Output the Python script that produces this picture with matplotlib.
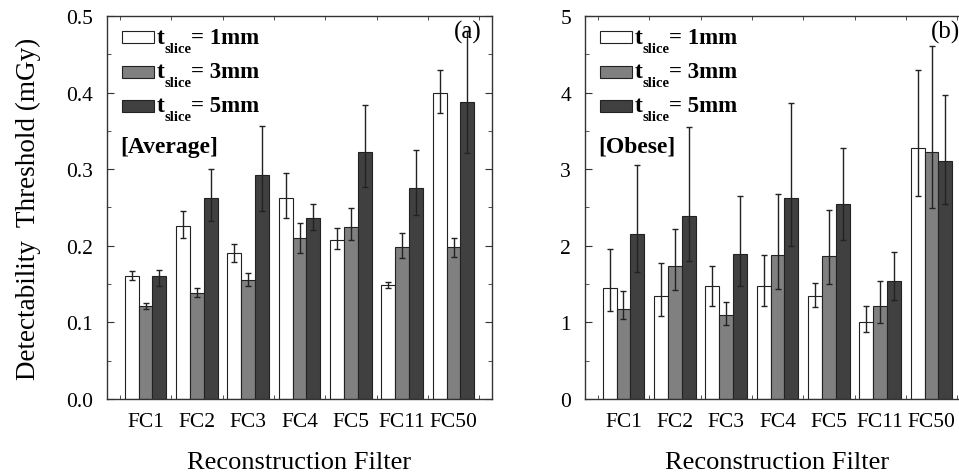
import matplotlib
matplotlib.use('Agg')
import numpy as np
import matplotlib.pyplot as plt
from matplotlib.ticker import MultipleLocator
from matplotlib.patches import Rectangle

plt.rcParams['font.family'] = ['Liberation Serif', 'DejaVu Serif']

filters = ['FC1', 'FC2', 'FC3', 'FC4', 'FC5', 'FC11', 'FC50']
slice_labels = ['= 1mm', '= 3mm', '= 5mm']
bar_colors = ['#ffffff', '#808080', '#404040']

# (a) Average phantom, values and error bar bounds (mGy)
avg_1mm = [0.161, 0.226, 0.191, 0.262, 0.208, 0.149, 0.399]
avg_1mm_lo = [0.155, 0.210, 0.179, 0.236, 0.196, 0.145, 0.373]
avg_1mm_hi = [0.167, 0.246, 0.202, 0.295, 0.223, 0.153, 0.429]
avg_3mm = [0.122, 0.139, 0.156, 0.210, 0.225, 0.199, 0.198]
avg_3mm_lo = [0.118, 0.133, 0.148, 0.191, 0.207, 0.184, 0.186]
avg_3mm_hi = [0.125, 0.145, 0.164, 0.230, 0.249, 0.217, 0.210]
avg_5mm = [0.160, 0.262, 0.292, 0.236, 0.323, 0.276, 0.388]
avg_5mm_lo = [0.148, 0.232, 0.246, 0.220, 0.277, 0.240, 0.321]
avg_5mm_hi = [0.168, 0.300, 0.357, 0.254, 0.384, 0.325, 0.480]

# (b) Obese phantom
obe_1mm = [1.45, 1.34, 1.47, 1.48, 1.34, 1.01, 3.28]
obe_1mm_lo = [1.15, 1.08, 1.21, 1.22, 1.20, 0.87, 2.65]
obe_1mm_hi = [1.96, 1.77, 1.74, 1.88, 1.51, 1.22, 4.29]
obe_3mm = [1.18, 1.74, 1.10, 1.88, 1.87, 1.22, 3.23]
obe_3mm_lo = [1.05, 1.42, 0.97, 1.44, 1.50, 0.99, 2.49]
obe_3mm_hi = [1.41, 2.22, 1.27, 2.67, 2.47, 1.54, 4.61]
obe_5mm = [2.16, 2.39, 1.89, 2.63, 2.55, 1.54, 3.11]
obe_5mm_lo = [1.66, 1.80, 1.47, 2.00, 2.08, 1.29, 2.55]
obe_5mm_hi = [3.06, 3.55, 2.65, 3.86, 3.28, 1.92, 3.97]

panels = [
    dict(vals=[avg_1mm, avg_3mm, avg_5mm], lo=[avg_1mm_lo, avg_3mm_lo, avg_5mm_lo],
         hi=[avg_1mm_hi, avg_3mm_hi, avg_5mm_hi], ymax=0.5, step=0.1, fmt='%.1f',
         tag='(a)', group='[Average]'),
    dict(vals=[obe_1mm, obe_3mm, obe_5mm], lo=[obe_1mm_lo, obe_3mm_lo, obe_5mm_lo],
         hi=[obe_1mm_hi, obe_3mm_hi, obe_5mm_hi], ymax=5, step=1, fmt='%d',
         tag='(b)', group='[Obese]'),
]

fig = plt.figure(figsize=(9.59, 4.77), dpi=100)
lefts = [0.1116, 0.61]
x = np.arange(len(filters))
w = 0.27
row_y = [0.945, 0.855, 0.766]  # legend rows, axes fraction

for left, p in zip(lefts, panels):
    ax = fig.add_axes([left, 0.1614, 0.4015, 0.803])
    for k in range(3):
        v = np.array(p['vals'][k])
        err = [v - np.array(p['lo'][k]), np.array(p['hi'][k]) - v]
        ax.bar(x + (k - 1) * w, v, w, color=bar_colors[k], edgecolor='#222222', lw=0.8,
               yerr=err, capsize=2.5, error_kw=dict(ecolor='#222222', elinewidth=1.0, capthick=1.0))
    ax.set_xlim(-0.75, 6.75)
    ax.set_ylim(0, p['ymax'])
    ax.set_xticks(x)
    ax.set_xticklabels(filters)
    ax.xaxis.set_minor_locator(MultipleLocator(0.5))
    ax.yaxis.set_major_locator(MultipleLocator(p['step']))
    ax.yaxis.set_minor_locator(MultipleLocator(p['step'] / 2))
    ax.yaxis.set_major_formatter(matplotlib.ticker.FormatStrFormatter(p['fmt']))
    ax.tick_params(which='both', direction='in', top=True, right=True, labelsize=15.5, color='#333333')
    ax.tick_params(axis='x', which='major', pad=9, length=0)
    ax.tick_params(axis='x', which='minor', length=3)
    ax.tick_params(axis='y', which='major', length=5, pad=10)
    ax.tick_params(axis='y', which='minor', length=3)
    for s in ax.spines.values():
        s.set_linewidth(1.0)
        s.set_color('#333333')
    ax.set_xlabel('Reconstruction Filter', fontsize=19, labelpad=15)

    # hand-built legend: swatch, bold t with small "slice" subscript, then "= Nmm"
    for k in range(3):
        y = row_y[k]
        ax.add_patch(Rectangle((0.039, y - 0.0157), 0.083, 0.0314, transform=ax.transAxes,
                               facecolor=bar_colors[k], edgecolor='#222222', lw=0.8, clip_on=False))
        ax.text(0.129, y, 't', transform=ax.transAxes, fontsize=17, fontweight='bold',
                va='center', ha='left')
        ax.text(0.149, y - 0.029, 'slice', transform=ax.transAxes, fontsize=10.5, fontweight='bold',
                va='center', ha='left')
        ax.text(0.219, y, slice_labels[k], transform=ax.transAxes, fontsize=16.5, fontweight='bold',
                va='center', ha='left')

    ax.text(0.035, 0.66, p['group'], transform=ax.transAxes, fontsize=17, fontweight='bold',
            va='center', ha='left')
    ax.text(0.937, 0.96, p['tag'], transform=ax.transAxes, fontsize=18, va='center', ha='center')
    if p['tag'] == '(a)':
        ax.set_ylabel('Detectability  Threshold (mGy)', fontsize=19.5, labelpad=18)

fig.savefig('out.png', dpi=100)
